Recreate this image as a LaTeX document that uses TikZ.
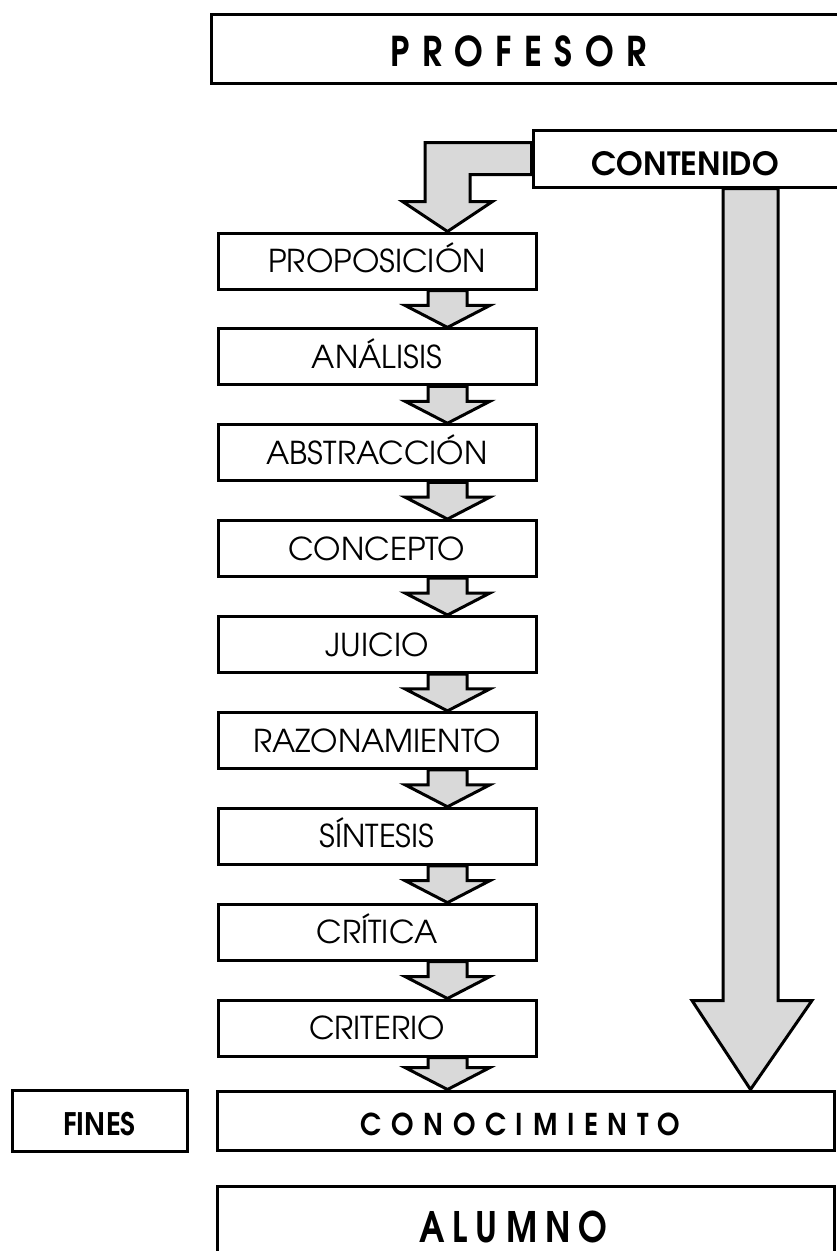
\documentclass[tikz,border=0pt]{standalone}
\usepackage{fontspec}
\setmainfont{TeX Gyre Adventor}
\usetikzlibrary{calc}
\definecolor{arrowfill}{RGB}{217,217,217}
\tikzset{
  box/.style={draw, line width=3pt, rectangle, inner sep=0pt, fill=white},
  stepbox/.style={box, minimum width=318pt, minimum height=56pt,
    font=\fontsize{31.5}{36}\selectfont, text height=23.3pt, text depth=0pt, yshift=-6pt},
  arr/.style={draw, fill=arrowfill, line width=3pt, line join=miter},
}
% arrow between two consecutive steps
\newcommand\steparrow[2]{%
  \draw[arr] let \p1=(#1.south), \p2=(#2.north) in
    (\x1+51pt,\y1) -- (\x1+51pt,\y2+22pt) -- (\x1+28pt,\y2+22pt) --
    (\x1+70.5pt,\y2) -- (\x1+113pt,\y2+22pt) -- (\x1+90pt,\y2+22pt) --
    (\x1+90pt,\y1) -- cycle;}
% invisible padding after a label, to move it off the box centre
\newcommand\padright[1]{\rule{#1}{0pt}}
\begin{document}
\begin{tikzpicture}[x=1pt,y=-1pt]
\useasboundingbox (0,0) rectangle (836,1251);

% top boxes
\node[box, minimum width=635pt, minimum height=69pt,
  font=\fontsize{41}{46}\selectfont\bfseries\addfontfeatures{LetterSpace=30,FakeStretch=0.84},
  text height=30.3pt, text depth=0pt]
  (profesor) at (528.5,48.5) {\raisebox{-3pt}{PROFESOR}\padright{20pt}};
\node[box, minimum width=305pt, minimum height=57pt,
  font=\fontsize{32}{38}\selectfont\bfseries, text height=23.7pt, text depth=0pt]
  (contenido) at (685.5,158.5) {\raisebox{-5pt}{CONTENIDO}};

% steps
\node[stepbox] (s1) at (377,255) {PROPOSICIÓN};
\node[stepbox] (s2) at (377,350.9) {ANÁLISIS};
\node[stepbox] (s3) at (377,446.75) {ABSTRACCIÓN};
\node[stepbox] (s4) at (377,542.6) {CONCEPTO};
\node[stepbox] (s5) at (377,638.5) {JUICIO};
\node[stepbox] (s6) at (377,734.4) {RAZONAMIENTO};
\node[stepbox] (s7) at (377,830.25) {SÍNTESIS};
\node[stepbox] (s8) at (377,926.1) {CRÍTICA};
\node[stepbox] (s9) at (377,1022) {CRITERIO};

% bottom boxes
\node[box, minimum width=175pt, minimum height=61pt,
  font=\fontsize{31}{36}\selectfont\bfseries\addfontfeatures{FakeStretch=0.92},
  text height=23pt, text depth=0pt]
  (fines) at (99.5,1120.5) {\raisebox{-3pt}{FINES}};
\node[box, minimum width=617pt, minimum height=59pt,
  font=\fontsize{30}{36}\selectfont\bfseries\addfontfeatures{LetterSpace=32,FakeStretch=0.9},
  text height=22.2pt, text depth=0pt]
  (conocimiento) at (525.5,1120.5) {\raisebox{-3.5pt}{CONOCIMIENTO}\padright{10pt}};
\node[box, minimum width=617pt, minimum height=76pt,
  font=\fontsize{42}{48}\selectfont\bfseries\addfontfeatures{LetterSpace=19.5,FakeStretch=0.82},
  text height=31pt, text depth=0pt]
  (alumno) at (525.5,1224) {\raisebox{-2.5pt}{ALUMNO}\padright{24pt}};

% bent arrow from CONTENIDO into the first step
\draw[arr] let \p1=(contenido.west), \p2=(s1.north) in
  (\x1,\y1+16pt) -- (\x2+48pt,\y1+16pt) -- (\x2+48pt,\y2+30pt) --
  (\x2+25.5pt,\y2+30pt) -- (\x2+70.5pt,\y2) -- (\x2+115.5pt,\y2+30pt) --
  (\x2+93pt,\y2+30pt) -- (\x2+93pt,\y1-16pt) -- (\x1,\y1-16pt) -- cycle;

% chain of steps
\steparrow{s1}{s2}
\steparrow{s2}{s3}
\steparrow{s3}{s4}
\steparrow{s4}{s5}
\steparrow{s5}{s6}
\steparrow{s6}{s7}
\steparrow{s7}{s8}
\steparrow{s8}{s9}
\steparrow{s9}{conocimiento}

% long arrow from CONTENIDO straight to CONOCIMIENTO
\draw[arr] let \p1=(contenido.south), \p2=(conocimiento.north) in
  (\x1+37.5pt,\y1) -- (\x1+37.5pt,\y2+89pt) -- (\x1+6.5pt,\y2+89pt) --
  (\x1+65pt,\y2) -- (\x1+126.5pt,\y2+89pt) -- (\x1+92.5pt,\y2+89pt) --
  (\x1+92.5pt,\y1) -- cycle;
\end{tikzpicture}
\end{document}
